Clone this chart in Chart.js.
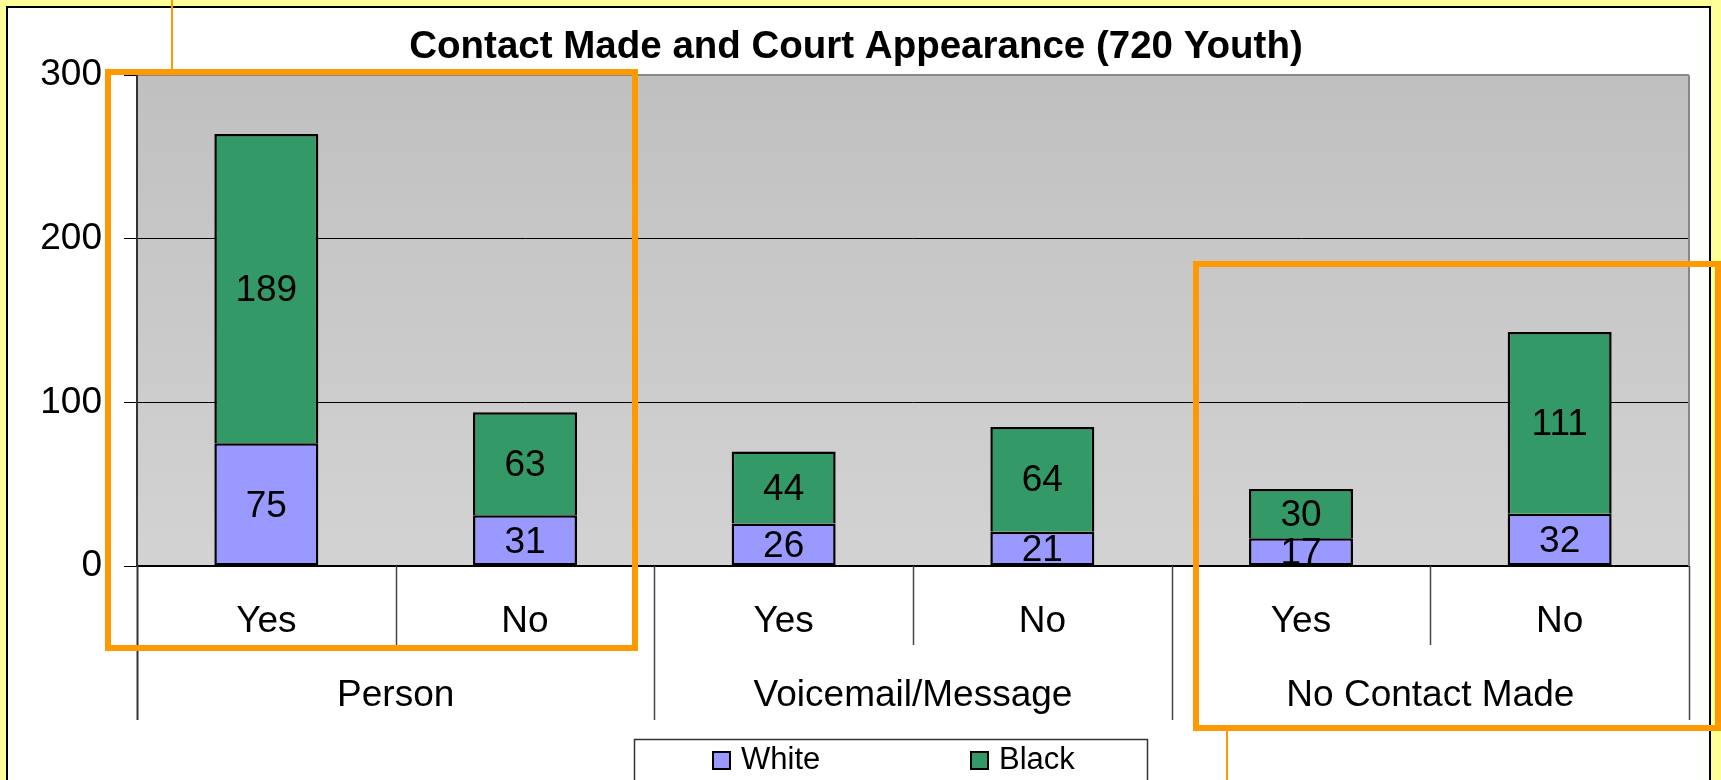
<!DOCTYPE html>
<html>
<head>
<meta charset="utf-8">
<title>Contact Made and Court Appearance</title>
<script src="https://cdn.jsdelivr.net/npm/chart.js@4.4.1/dist/chart.umd.min.js"></script>
<style>
  html, body { margin: 0; padding: 0; background: #ffff99; overflow: hidden; }
  canvas { display: block; }
</style>
</head>
<body>
<canvas id="chart" width="1721" height="780"></canvas>
<script>
// data
const contactGroups = ["Person", "Voicemail/Message", "No Contact Made"];
const appearedLabels = ["Yes", "No"];
const whiteYouth = [75, 31, 26, 21, 17, 32];
const blackYouth = [189, 63, 44, 64, 30, 111];
const yTickValues = [0, 100, 200, 300];

const FONT = "'Liberation Sans', Arial, Helvetica, sans-serif";

const categoryLabels = [];
contactGroups.forEach(() => appearedLabels.forEach(a => categoryLabels.push(a)));

// yellow slide background, white frame and grey plot area
const backgroundPlugin = {
  id: "background",
  beforeDraw(chart) {
    const { ctx, width, height, chartArea: a } = chart;
    ctx.save();
    ctx.fillStyle = "#ffff99";
    ctx.fillRect(0, 0, width, height);
    ctx.fillStyle = "#ffffff";
    ctx.fillRect(7, 7, 1703, height);
    ctx.strokeStyle = "#000000";
    ctx.lineWidth = 2;
    ctx.strokeRect(7, 7, 1703, height + 10);
    const g = ctx.createLinearGradient(0, a.top, 0, a.bottom);
    g.addColorStop(0, "#c0c0c0");
    g.addColorStop(1, "#d3d3d3");
    ctx.fillStyle = g;
    ctx.fillRect(a.left, a.top, a.right - a.left, a.bottom - a.top);
    ctx.restore();
  }
};

// numbers in the middle of each stacked piece
const valueLabelsPlugin = {
  id: "valueLabels",
  afterDatasetsDraw(chart) {
    const { ctx, chartArea: a } = chart;
    ctx.save();
    ctx.beginPath();
    ctx.rect(a.left, a.top, a.right - a.left, a.bottom - a.top);
    ctx.clip();
    ctx.font = "37px " + FONT;
    ctx.fillStyle = "#000000";
    ctx.textAlign = "center";
    ctx.textBaseline = "middle";
    chart.data.datasets.forEach((ds, di) => {
      chart.getDatasetMeta(di).data.forEach((bar, i) => {
        const { x, y, base } = bar.getProps(["x", "y", "base"], true);
        ctx.fillText(String(ds.data[i]), x, (y + base) / 2 + 2);
      });
    });
    ctx.restore();
  }
};

// two-level category axis, plot border, legend box and the orange call-outs
const decorPlugin = {
  id: "decor",
  afterDraw(chart) {
    const { ctx, chartArea: a } = chart;
    const xScale = chart.scales.x;
    const step = (a.right - a.left) / categoryLabels.length;
    ctx.save();

    // right border of plot area
    ctx.strokeStyle = "#888888";
    ctx.lineWidth = 2;
    ctx.beginPath();
    ctx.moveTo(a.right, a.top);
    ctx.lineTo(a.right, a.bottom);
    ctx.stroke();

    // separators under the axis
    for (let i = 0; i <= categoryLabels.length; i++) {
      const x = Math.round(a.left + i * step) + 0.5;
      const isGroupEdge = i % appearedLabels.length === 0;
      ctx.strokeStyle = i === 0 ? "#333333" : "#444444";
      ctx.lineWidth = i === 0 ? 2 : 1.5;
      ctx.beginPath();
      ctx.moveTo(x, a.bottom);
      ctx.lineTo(x, a.bottom + (isGroupEdge ? 154 : 79));
      ctx.stroke();
    }

    ctx.fillStyle = "#000000";
    ctx.textAlign = "center";
    ctx.textBaseline = "middle";
    ctx.font = "37px " + FONT;
    categoryLabels.forEach((lab, i) => {
      ctx.fillText(lab, xScale.getPixelForValue(i), a.bottom + 56);
    });
    contactGroups.forEach((g, gi) => {
      const first = xScale.getPixelForValue(gi * appearedLabels.length);
      const last = xScale.getPixelForValue(gi * appearedLabels.length + appearedLabels.length - 1);
      ctx.fillText(g, (first + last) / 2, a.bottom + 130);
    });

    // legend box
    ctx.fillStyle = "#ffffff";
    ctx.fillRect(634, 739, 513, 60);
    ctx.strokeStyle = "#333333";
    ctx.lineWidth = 1.5;
    ctx.strokeRect(634.5, 739.5, 513, 60);
    const legendX = [713, 971];
    ctx.font = "31px " + FONT;
    ctx.textAlign = "left";
    chart.data.datasets.forEach((ds, di) => {
      const x = legendX[di];
      ctx.fillStyle = ds.backgroundColor;
      ctx.fillRect(x, 752, 17, 17);
      ctx.strokeStyle = "#000000";
      ctx.lineWidth = 2;
      ctx.strokeRect(x, 752, 17, 17);
      ctx.fillStyle = "#000000";
      ctx.fillText(ds.label, x + 28, 760);
    });

    // orange highlight boxes
    ctx.strokeStyle = "#ff9900";
    ctx.lineWidth = 6;
    ctx.strokeRect(108, 72, 527, 576);
    ctx.strokeRect(1196, 264, 522, 464);
    ctx.lineWidth = 2;
    ctx.beginPath();
    ctx.moveTo(172, 0);
    ctx.lineTo(172, 69);
    ctx.moveTo(1227, 731);
    ctx.lineTo(1227, 780);
    ctx.stroke();

    ctx.restore();
  }
};

new Chart(document.getElementById("chart"), {
  type: "bar",
  data: {
    labels: categoryLabels,
    datasets: [
      {
        label: "White",
        data: whiteYouth,
        backgroundColor: "#9999ff",
        borderColor: "#000000",
        borderWidth: 2.5,
        borderSkipped: false,
        barPercentage: 0.402,
        categoryPercentage: 1
      },
      {
        label: "Black",
        data: blackYouth,
        backgroundColor: "#339966",
        borderColor: "#000000",
        borderWidth: 2.5,
        borderSkipped: "start",
        barPercentage: 0.402,
        categoryPercentage: 1
      }
    ]
  },
  options: {
    responsive: false,
    animation: false,
    devicePixelRatio: 1,
    layout: { padding: { left: 23, right: 32, top: 6, bottom: 0 } },
    plugins: {
      legend: { display: false },
      tooltip: { enabled: false },
      title: {
        display: true,
        text: "Contact Made and Court Appearance (720 Youth)",
        color: "#000000",
        font: { family: FONT, size: 38.5, weight: "bold" },
        padding: { top: 18, bottom: 5 }
      }
    },
    scales: {
      x: {
        stacked: true,
        grid: { display: false },
        border: { display: true, color: "#000000", width: 2 },
        ticks: { display: false },
        afterFit(scale) {
          scale.height = 214;
        }
      },
      y: {
        stacked: true,
        min: 0,
        max: 300,
        afterBuildTicks(scale) {
          scale.ticks = yTickValues.map(v => ({ value: v }));
        },
        ticks: {
          color: "#000000",
          font: { family: FONT, size: 37 },
          padding: 22
        },
        grid: {
          color: c => (c.tick.value === 300 ? "#888888" : "#000000"),
          lineWidth: c => (c.tick.value === 300 ? 2 : 1),
          tickLength: 13,
          tickColor: "#000000"
        },
        border: { display: true, color: "#333333", width: 2 },
        afterFit(scale) {
          scale.width = 114;
        }
      }
    }
  },
  plugins: [backgroundPlugin, valueLabelsPlugin, decorPlugin]
});
</script>
</body>
</html>
